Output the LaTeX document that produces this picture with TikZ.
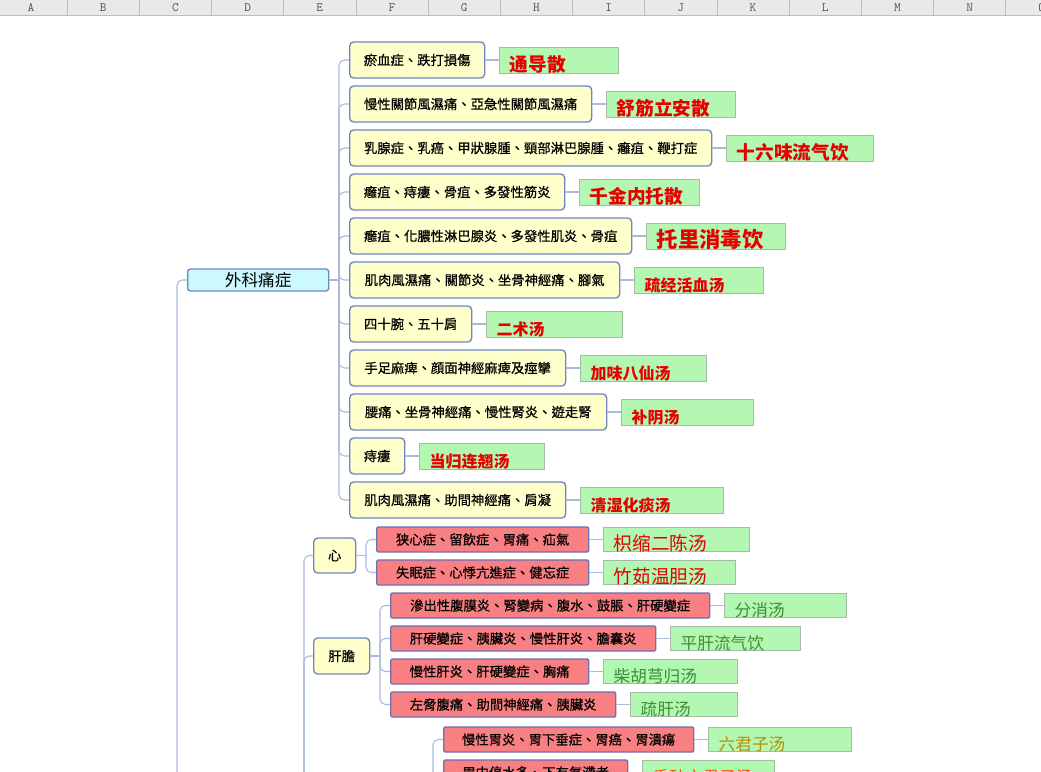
\documentclass[tikz,border=0pt]{standalone}
\usepackage{fontspec}
\usepackage{tikz}
\usetikzlibrary{positioning}
\newfontfamily\tcfont[FakeBold=0.5]{Noto Sans CJK TC}
\newfontfamily\rootfont{Noto Sans CJK TC}
\newfontfamily\songfont{Noto Sans CJK SC}
\definecolor{yellowfill}{HTML}{FFFFCC}
\definecolor{rootfill}{HTML}{CCF8FF}
\definecolor{redfill}{HTML}{F88082}
\definecolor{greenfill}{HTML}{B3F7B3}
\definecolor{boxline}{HTML}{6D87BE}
\definecolor{redline}{HTML}{6B6FB4}
\definecolor{greenline}{HTML}{A3BCA3}
\definecolor{linkcol}{HTML}{A9BADC}
\definecolor{textred}{HTML}{E60000}
\definecolor{textgreen}{HTML}{3F8F35}
\definecolor{textgold}{HTML}{B89000}
\definecolor{textorange}{HTML}{F06010}
\definecolor{headfill}{HTML}{E9E9E9}
\definecolor{headline}{HTML}{BDBDBD}
\definecolor{headtext}{HTML}{555555}

\begin{document}
\begin{tikzpicture}[x=0.75pt, y=-0.75pt,
    yellowbox/.style={draw=boxline, fill=yellowfill, line width=1pt, rounded corners=3pt, anchor=west,
        inner sep=0pt, minimum height=27pt, font=\tcfont\fontsize{10}{12}\selectfont},
    rootbox/.style={draw=boxline, fill=rootfill, line width=1pt, rounded corners=2pt, anchor=west,
        inner sep=0pt, minimum width=105.75pt, minimum height=16.5pt, font=\rootfont\fontsize{12.5}{14}\selectfont},
    redbox/.style={draw=redline, fill=redfill, line width=1pt, rounded corners=1pt, anchor=west,
        inner sep=0pt, minimum height=18.75pt, font=\tcfont\fontsize{10}{12}\selectfont},
    greenbox/.style={draw=greenline, fill=greenfill, line width=0.6pt, inner xsep=7.5pt, inner ysep=0pt,
        text height=18.5pt, text depth=1pt, align=left},
    link/.style={draw=linkcol, line width=0.8pt, rounded corners=4pt}]
    \useasboundingbox (0,0) rectangle (1041,771);
    \clip (0,0) rectangle (1041,771);
    \fill[white] (0,0) rectangle (1041,771);

    % column header
    \fill[headfill] (0,0) rectangle (1041,15);
    \draw[headline] (0,15) -- (1041,15);
    \foreach \k in {0,...,13} {
        \draw[headline] ({67+72.2*\k},0) -- ({67+72.2*\k},15);
    }
    \foreach \c [count=\k from 0] in {A,...,O} {
        \node[font=\ttfamily\fontsize{9.5}{9.5}\selectfont, text=headtext] (col\c) at ({31+72.2*\k},8) {\c};
    }

    % root
    \node[rootbox] (root) at (187,280) {外科痛症};
    \coordinate (p1) at (177,790);
    \coordinate (t1) at (339,280);
    \draw[link] (p1) |- (root.west);
    \draw[link] (root) -- (t1);

    \foreach \i/\y/\w/\t/\gw/\g/\s in {
        1/60/135/瘀血症、跌打損傷/119/通导散/14,
        2/104/242/慢性關節風濕痛、亞急性關節風濕痛/129/舒筋立安散/14,
        3/148/362/乳腺症、乳癌、甲狀腺腫、頸部淋巴腺腫、癰疽、鞭打症/147/十六味流气饮/14,
        4/192/215/癰疽、痔瘻、骨疽、多發性筋炎/120/千金内托散/14,
        5/236/282/癰疽、化膿性淋巴腺炎、多發性肌炎、骨疽/139/托里消毒饮/16,
        6/280/270/肌肉風濕痛、關節炎、坐骨神經痛、腳氣/129/疏经活血汤/12,
        7/324/122/四十腕、五十肩/136/二术汤/12,
        8/368/216/手足麻痺、顔面神經麻痺及痙攣/126/加味八仙汤/12,
        9/412/257/腰痛、坐骨神經痛、慢性腎炎、遊走腎/132/补阴汤/12,
        10/456/55/痔瘻/125/当归连翘汤/12,
        11/500/216/肌肉風濕痛、助間神經痛、肩凝/143/清湿化痰汤/12} {
        \pgfmathsetmacro\bw{\w*0.75}
        \pgfmathsetmacro\tw{(\gw-20)*0.75}
        \draw[link] (t1) |- (349,\y);
        \node[yellowbox, minimum width=\bw pt] (a\i) at (349,\y) {\t};
        \node[greenbox, text width=\tw pt, font={\songfont\bfseries\fontsize{\s}{\s}\selectfont},
            text=textred, right=10.5pt of a\i] (g\i) {\g};
        \draw[link] (a\i) -- (g\i);
    }

    % second branch
    \coordinate (p2) at (304,790);
    \coordinate (p3) at (433,790);
    \node[yellowbox, minimum width=31.5pt, minimum height=26.25pt] (xin) at (313,555.5) {心};
    \node[yellowbox, minimum width=42pt] (gandan) at (313,656) {肝膽};
    \coordinate (t2) at (366,555.5);
    \coordinate (t3) at (380,656);
    \draw[link] (p2) |- (xin.west);
    \draw[link] (p2) |- (gandan.west);
    \draw[link] (xin) -- (t2);
    \draw[link] (gandan) -- (t3);

    \foreach \i/\p/\x/\y/\w/\t/\gw/\g/\c/\s in {
        1/t2/376/539.5/212/狭心症、留飲症、胃痛、疝氣/146/枳缩二陈汤/textred/14,
        2/t2/376/572.5/212/失眠症、心悸亢進症、健忘症/132/竹茹温胆汤/textred/14,
        3/t3/390/605.5/319/滲出性腹膜炎、腎變病、腹水、鼓脹、肝硬變症/122/分消汤/textgreen/12.5,
        4/t3/390/638.5/265/肝硬變症、胰臟炎、慢性肝炎、膽囊炎/130/平肝流气饮/textgreen/12.5,
        5/t3/390/671.5/198/慢性肝炎、肝硬變症、胸痛/134/柴胡芎归汤/textgreen/12.5,
        6/t3/390/704.5/225/左脅腹痛、助間神經痛、胰臟炎/107/疏肝汤/textgreen/12.5,
        7/p3/443/739.5/250/慢性胃炎、胃下垂症、胃癌、胃潰瘍/143/六君子汤/textgold/12.5,
        8/p3/443/772.5/184/胃中停水多、下有氣滯者/132/香砂六君子汤/textorange/12.5} {
        \pgfmathsetmacro\bw{\w*0.75}
        \pgfmathsetmacro\tw{(\gw-20)*0.75}
        \draw[link] (\p) |- (\x,\y);
        \node[redbox, minimum width=\bw pt] (r\i) at (\x,\y) {\t};
        \node[greenbox, text width=\tw pt, text height=17.5pt, font={\songfont\fontsize{\s}{\s}\selectfont},
            text=\c, right=10.5pt of r\i] (h\i) {\g};
        \draw[link] (r\i) -- (h\i);
    }
\end{tikzpicture}
\end{document}
